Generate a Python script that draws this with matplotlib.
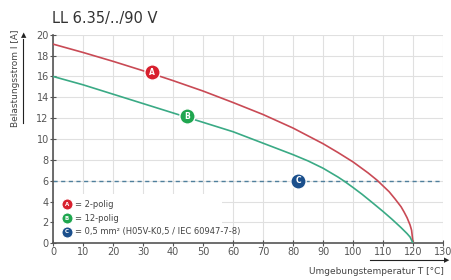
import numpy as np
import matplotlib.pyplot as plt
from matplotlib.patches import Rectangle

# === Data ===
temp_a = [0, 10, 20, 30, 40, 50, 60, 70, 80, 85, 90, 95, 100, 105, 108, 110, 112, 114,
          116, 117, 118, 119, 119.5, 120]
curr_a = [19.1, 18.3, 17.45, 16.55, 15.6, 14.6, 13.5, 12.35, 11.05, 10.3, 9.55, 8.7,
          7.8, 6.75, 6.05, 5.5, 4.95, 4.25, 3.5, 3.0, 2.45, 1.75, 1.25, 0]

temp_b = [0, 10, 20, 30, 40, 50, 60, 70, 80, 85, 90, 95, 97, 100, 103, 106, 110, 113,
          116, 118, 119, 120]
curr_b = [16.0, 15.2, 14.3, 13.4, 12.5, 11.6, 10.7, 9.6, 8.5, 7.9, 7.2, 6.35, 5.97, 5.35,
          4.7, 4.0, 3.05, 2.3, 1.5, 0.93, 0.6, 0]

wire_limit = 6.0
marker_pos = {'A': (32.9, 16.4), 'B': (44.6, 12.2), 'C': (81.8, 6.0)}
legend_labels = ['= 2-polig', '= 12-polig', '= 0,5 mm² (H05V-K0,5 / IEC 60947-7-8)']

x_ticks = list(range(0, 131, 10))
y_ticks = list(range(0, 21, 2))

# === Style ===
plt.rcParams['font.family'] = ['Liberation Sans Narrow', 'DejaVu Sans']
red = '#c94a55'
green = '#3aaa85'
blue_dash = '#4f7f9c'
mk_colors = {'A': '#d8202e', 'B': '#1fa64f', 'C': '#1b4f8c'}

fig = plt.figure(figsize=(4.51, 2.80), dpi=100)
ax = fig.add_axes([0.1175, 0.131, 0.865, 0.745])

ax.set_xlim(0, 130)
ax.set_ylim(0, 20)
ax.set_xticks(x_ticks)
ax.set_yticks(y_ticks)
ax.grid(True, color='#e0e0e0', lw=0.8)
ax.set_axisbelow(True)
for s in ['top', 'right']:
    ax.spines[s].set_visible(False)
for s in ['left', 'bottom']:
    ax.spines[s].set_color('#555555')
    ax.spines[s].set_linewidth(1.2)
ax.tick_params(direction='inout', length=4, width=0.8, color='#555555',
               labelsize=7, labelcolor='#555555', pad=1)

# legend box masks the grid in the lower left
ax.add_patch(Rectangle((0.3, 0.05), 56, 4.7, facecolor='white', edgecolor='none', zorder=1.5))

ax.axhline(wire_limit, color=blue_dash, lw=1.0, ls=(0, (3, 2.5)), zorder=2)
ax.plot(temp_a, curr_a, color=red, lw=1.2, zorder=3)
ax.plot(temp_b, curr_b, color=green, lw=1.2, zorder=3)

for key, (tx, ty) in marker_pos.items():
    ax.plot(tx, ty, 'o', ms=11, mfc=mk_colors[key], mec='white', mew=1.0, zorder=5)
    ax.text(tx, ty, key, color='white', fontsize=5.5, fontweight='bold',
            ha='center', va='center', zorder=6)

# manual legend
leg_y = [3.75, 2.4, 1.1]
for key, ly, lab in zip(['A', 'B', 'C'], leg_y, legend_labels):
    ax.plot(4.6, ly, 'o', ms=8, mfc=mk_colors[key], mec='white', mew=0.8, zorder=5)
    ax.text(4.6, ly, key, color='white', fontsize=4, fontweight='bold',
            ha='center', va='center', zorder=6)
    ax.text(7.2, ly, lab, fontsize=6, color='#444444', va='center', zorder=6)

# title and axis labels
fig.text(0.115, 0.935, 'LL 6.35/../90 V', fontsize=10.5, color='#333333', va='center')
fig.text(0.035, 0.72, 'Belastungsstrom I [A]', rotation=90, fontsize=6.5,
         color='#444444', ha='center', va='center')
fig.add_artist(plt.Line2D([0.052, 0.052], [0.56, 0.86], color='#222222', lw=0.8))
fig.text(0.052, 0.875, '▲', fontsize=5, color='#222222', ha='center', va='center')

fig.text(0.985, 0.03, 'Umgebungstemperatur T [°C]', fontsize=6.5, color='#444444',
         ha='right', va='center')
fig.add_artist(plt.Line2D([0.82, 0.985], [0.07, 0.07], color='#222222', lw=0.8))
fig.text(0.99, 0.07, '▶', fontsize=5, color='#222222', ha='center', va='center')

plt.savefig('out.png', dpi=100)
